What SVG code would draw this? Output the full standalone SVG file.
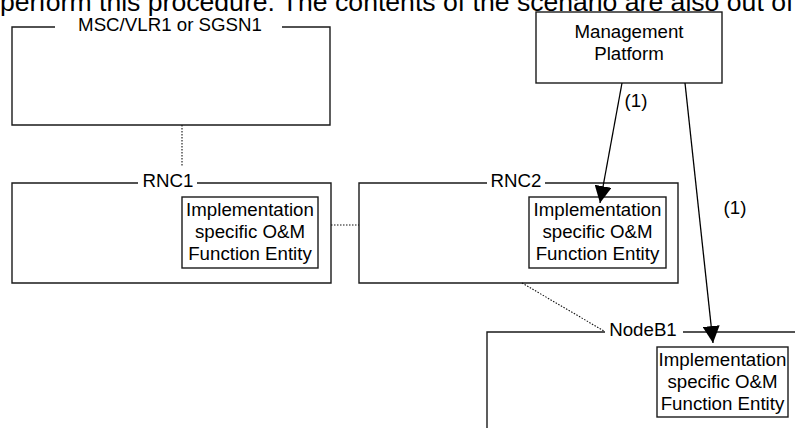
<svg xmlns="http://www.w3.org/2000/svg" width="795" height="428" viewBox="0 0 795 428">
<style>
text{font-family:"Liberation Sans",Arial,sans-serif;font-size:18.7px;fill:#000;text-anchor:middle}
.box{fill:none;stroke:#1a1a1a;stroke-width:1.4}
.ln{fill:none;stroke:#000;stroke-width:1.3}
.dot{fill:none;stroke:#111;stroke-width:1.1;stroke-dasharray:1.5,1.5}
</style>
<defs>
<marker id="ah" viewBox="0 0 17 17" refX="17" refY="8.5" markerWidth="17" markerHeight="17" markerUnits="userSpaceOnUse" orient="auto">
<path d="M0,0 L17,8.5 L0,17 z" fill="#000"/>
</marker>
</defs>
<rect width="795" height="428" fill="#fff"/>
<text x="0" y="11" style="font-size:26.6px;text-anchor:start">perform this procedure. The contents of the scenario are also out of</text>
<g id="msc">
<path class="box" d="M55,27 H12 V125 H330 V27 H282"/>
<text x="170" y="31">MSC/VLR1 or SGSN1</text>
</g>
<g id="mgmt">
<rect class="box" x="536" y="12" width="186" height="71"/>
<text x="629" y="38">Management</text>
<text x="629" y="60">Platform</text>
</g>
<g id="rnc1">
<path class="box" d="M138,183 H12 V283 H331 V183 H197"/>
<text x="168" y="187">RNC1</text>
</g>
<g id="om1">
<rect class="box" x="182" y="197" width="136" height="71"/>
<text x="250" y="216">Implementation</text>
<text x="250" y="238">specific O&amp;M</text>
<text x="250" y="260">Function Entity</text>
</g>
<g id="rnc2">
<path class="box" d="M487,183 H359 V283 H678 V183 H545"/>
<text x="516" y="187">RNC2</text>
</g>
<g id="om2">
<rect class="box" x="529" y="197" width="137" height="71"/>
<text x="597.5" y="216">Implementation</text>
<text x="597.5" y="238">specific O&amp;M</text>
<text x="597.5" y="260">Function Entity</text>
</g>
<g id="nodeb1">
<path class="box" d="M605,332 H487 V428"/>
<path class="box" d="M683,332 H796"/>
<text x="643" y="336">NodeB1</text>
</g>
<g id="om3">
<rect class="box" x="657" y="347" width="131" height="70"/>
<text x="722.5" y="366">Implementation</text>
<text x="722.5" y="388">specific O&amp;M</text>
<text x="722.5" y="410">Function Entity</text>
</g>
<g id="connectors">
<line class="dot" x1="182" y1="125" x2="182" y2="167"/>
<line class="dot" x1="331" y1="225" x2="359" y2="225"/>
<line class="dot" x1="522" y1="283" x2="604" y2="331"/>
<line class="ln" x1="622" y1="83" x2="600" y2="203" marker-end="url(#ah)"/>
<line class="ln" x1="685" y1="83" x2="713" y2="343" marker-end="url(#ah)"/>
<text x="636" y="107">(1)</text>
<text x="735" y="214">(1)</text>
</g>
</svg>
